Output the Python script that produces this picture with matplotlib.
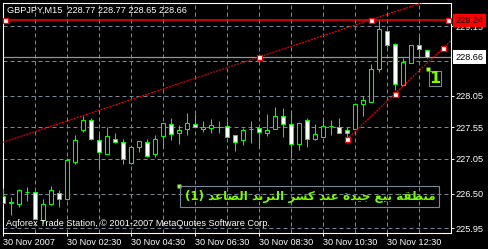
import numpy as np
import matplotlib
matplotlib.use("Agg")
import matplotlib.pyplot as plt
import matplotlib.transforms as mtransforms

# GBPJPY M15 candles, 30 Nov 2007
opens = [226.46, 226.35, 226.33, 226.52, 226.53, 226.08, 226.33, 226.51, 226.41, 227.00,
         227.50, 227.67, 227.34, 227.12, 227.37, 227.31, 226.98, 227.24, 227.31, 227.12,
         227.41, 227.60, 227.45, 227.52, 227.60, 227.52, 227.53, 227.56, 227.57, 227.43,
         227.34, 227.52, 227.53, 227.45, 227.52, 227.73, 227.60, 227.28, 227.66, 227.37,
         227.40, 227.57, 227.55, 227.50, 227.52, 227.91, 227.95, 228.47, 229.08, 228.86,
         228.22, 228.56, 228.85, 228.77]
highs = [226.59, 226.45, 226.57, 226.61, 226.54, 226.41, 226.62, 226.56, 227.06, 227.43,
         227.72, 227.69, 227.44, 227.55, 227.46, 227.37, 227.23, 227.33, 227.37, 227.43,
         227.61, 227.69, 227.58, 227.78, 227.76, 227.65, 227.68, 227.65, 227.65, 227.43,
         227.53, 227.64, 227.53, 227.76, 227.87, 227.85, 227.82, 227.61, 227.69, 227.60,
         227.69, 227.66, 227.69, 227.56, 227.91, 228.04, 228.55, 229.25, 229.09, 228.89,
         228.65, 228.85, 228.99, 228.77]
lows = [226.33, 226.16, 226.29, 226.38, 226.09, 226.03, 226.32, 226.28, 226.40, 226.96,
        227.48, 227.35, 226.92, 227.12, 227.30, 226.96, 226.97, 227.16, 227.08, 227.08,
        227.22, 227.35, 227.29, 227.43, 227.55, 227.48, 227.45, 227.45, 227.40, 227.17,
        227.27, 227.30, 227.22, 227.41, 227.52, 227.40, 227.06, 227.19, 227.24, 227.34,
        227.40, 227.43, 227.45, 227.37, 227.52, 227.73, 227.95, 228.43, 228.82, 228.14,
        228.22, 228.56, 228.64, 228.65]
closes = [226.35, 226.37, 226.56, 226.52, 226.09, 226.33, 226.56, 226.41, 227.03, 227.35,
          227.66, 227.37, 227.15, 227.41, 227.31, 227.04, 227.23, 227.33, 227.09, 227.37,
          227.61, 227.44, 227.50, 227.61, 227.55, 227.56, 227.58, 227.56, 227.40, 227.32,
          227.50, 227.52, 227.48, 227.50, 227.72, 227.60, 227.29, 227.61, 227.37, 227.44,
          227.57, 227.57, 227.46, 227.45, 227.91, 227.98, 228.47, 229.10, 228.85, 228.23,
          228.58, 228.85, 228.78, 228.66]

time_ticks = [0, 8, 16, 24, 32, 40, 48]
time_labels = ['30 Nov 2007', '30 Nov 02:30', '30 Nov 04:30', '30 Nov 06:30',
               '30 Nov 08:30', '30 Nov 10:30', '30 Nov 12:30']
grid_prices = [229.15, 228.60, 228.05, 227.55, 227.05, 226.50, 225.95]
price_labels = [229.15, 228.05, 227.55, 227.05, 226.50, 225.95]   # 228.60 sits under the bid label
vgrid = list(range(4, 56, 4))

hline_price = 229.24
bid = 228.66
trend1 = [(32, 228.66), (46, 229.25)]
trend2 = [(43, 227.36), (49, 228.08), (55, 228.80)]
hline_marks = [0.25, 55.6]

title = 'GBPJPY,M15  228.77 228.77 228.65 228.66'
copyright_txt = 'Aqforex Trade Station, \u00a9 2001-2007 MetaQuotes Software Corp.'
# "منطقة بيع جيدة عند كسر الترند الصاعد (1)" shaped by hand, visual order
words = ['\uFE94\uFED8\uFEC4\uFEE8\uFEE3', '\uFECA\uFEF4\uFE91',
         '\uFE93\uFEAA\uFEF4\uFE9F', '\uFEAA\uFEE8\uFECB',
         '\uFEAE\uFEB4\uFEDB', '\uFEAA\uFEE7\uFEAE\uFE98\uFEDF\uFE8D',
         '\uFEAA\uFECB\uFE8E\uFEBC\uFEDF\uFE8D']
arabic = '(1) ' + ' '.join(words[::-1])

GREEN = '#00ff00'
TXTGREEN = '#7cfc00'
GRID = '#778899'
W, H = 489, 249

fig = plt.figure(figsize=(W / 100, H / 100), dpi=100, facecolor='black')
ax = fig.add_axes([2.7 / W, (H - 233) / H, 448.8 / W, 230.3 / H], facecolor='black')
ax.set_xlim((2.7 - 3) / 8, (451.5 - 3) / 8)
ax.set_ylim(225.875, 229.52)

for s in ax.spines.values():
    s.set_color('white')
    s.set_linewidth(0.8)

# grid
for p in grid_prices:
    ax.axhline(p, color=GRID, lw=0.72, ls=(0, (4, 3)), zorder=1)
for k in vgrid:
    ax.axvline(k, color=GRID, lw=0.72, ls=(0, (4, 3)), zorder=1)

# bid line
ax.axhline(bid, color='#8c96a0', lw=0.9, zorder=1.5)

# candles
o = np.array(opens); h = np.array(highs); l = np.array(lows); c = np.array(closes)
x = np.arange(len(o))
ax.vlines(x, l, h, color=GREEN, lw=0.75, zorder=3)
fills = ['black' if cc > oo else 'white' for oo, cc in zip(o, c)]
ax.bar(x, c - o, bottom=o, width=0.55, color=fills, edgecolor=GREEN,
       linewidth=0.75, zorder=4)

# horizontal line
ax.axhline(hline_price, color='red', lw=1.1, zorder=5)
ax.plot(hline_marks, [hline_price] * 2, 's', ms=3.6, mfc='white', mec='red',
        mew=0.9, zorder=7, clip_on=False)

# trend line 1 (extended)
ax.axline(trend1[0], trend1[1], color='red', lw=0.75, ls=(0, (2, 1)), zorder=5)
tx, ty = zip(*trend1)
ax.plot(tx, ty, 's', ms=3.6, mfc='white', mec='red', mew=0.9, zorder=7)

# trend line 2 (ray)
(x0, y0), (x1, y1) = trend2[0], trend2[-1]
slope = (y1 - y0) / (x1 - x0)
xr = ax.get_xlim()[1]
ax.plot([x0, xr], [y0, y0 + slope * (xr - x0)], color='red', lw=0.75,
        ls=(0, (2, 1)), zorder=5)
tx, ty = zip(*trend2)
ax.plot(tx, ty, 's', ms=3.6, mfc='white', mec='red', mew=0.9, zorder=7)

# text objects
ax.plot([22, 53.1], [226.62, 228.47], 's', ms=2.2, color='#9aff30', mec='none', zorder=7)
ax.annotate(arabic, (22, 226.62), xytext=(4.0, -3.2), textcoords='offset points',
            ha='left', va='top', color=TXTGREEN, fontsize=8.6, fontweight='bold',
            family=['DejaVu Sans'], zorder=8,
            bbox=dict(boxstyle='square,pad=0.34', fc='none', ec=GRID, lw=0.8))
ax.annotate('1', (53.1, 228.47), xytext=(1.0, -1.4), textcoords='offset points',
            ha='left', va='top', color=TXTGREEN, fontsize=11.5, fontweight='bold',
            family=['DejaVu Sans'], zorder=8,
            bbox=dict(boxstyle='square,pad=0.02', fc='none', ec=GRID, lw=0.8))

# axes ticks
FONT = 'Liberation Sans'
ax.set_xticks(time_ticks)
ax.set_xticklabels(time_labels, ha='left', family=FONT, fontsize=6.6, color='white')
ax.tick_params(axis='x', colors='white', length=2.2, width=0.7, pad=1.2)
ax.yaxis.tick_right()
ax.set_yticks(price_labels)
ax.set_yticklabels(['%.2f' % p for p in price_labels], family=FONT, fontsize=6.6,
                   color='white')
ax.tick_params(axis='y', colors='white', length=2.2, width=0.7, pad=0.6)

# price labels at right
blend = mtransforms.blended_transform_factory(fig.transFigure, ax.transData)
ax.text(455.5 / W, hline_price, '%.2f' % hline_price, transform=blend, ha='left',
        va='center', family=FONT, fontsize=6.6, color='black', zorder=9, clip_on=False,
        bbox=dict(boxstyle='square,pad=0.25', fc='red', ec='none'))
ax.text(455.5 / W, bid, '%.2f' % bid, transform=blend, ha='left',
        va='center', family=FONT, fontsize=6.6, color='black', zorder=9, clip_on=False,
        bbox=dict(boxstyle='square,pad=0.25', fc='white', ec='none'))

fig.text(7 / W, 1 - 10.5 / H, title, ha='left', va='center', family=FONT,
         fontsize=6.6, color='white')
ax.text(6 / W, 1 - 223.5 / H, copyright_txt, transform=fig.transFigure, ha='left',
        va='center', family=FONT, fontsize=6.6, color='white', zorder=9)

fig.savefig('out.png', dpi=100, facecolor='black')
